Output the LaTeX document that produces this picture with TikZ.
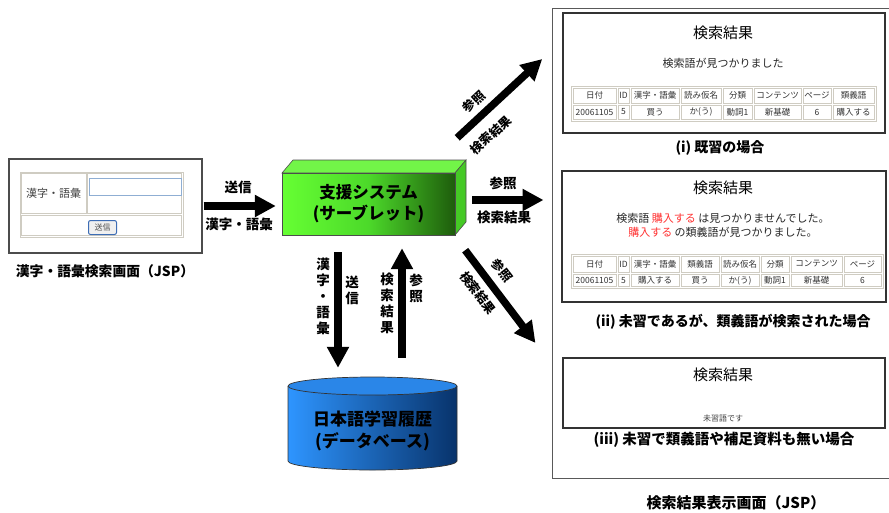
\documentclass[tikz,border=0pt]{standalone}
\usepackage{fontspec}
\setmainfont{Noto Sans CJK JP}
\usetikzlibrary{arrows.meta}
\definecolor{glight}{HTML}{66FF33}
\definecolor{gmid}{HTML}{4CD92A}
\definecolor{gdark}{HTML}{1E5C0C}
\definecolor{gtop}{HTML}{72F548}
\definecolor{gside}{HTML}{45C925}
\definecolor{blight}{HTML}{2E95FF}
\definecolor{bdark}{HTML}{08336B}
\definecolor{btop}{HTML}{2A86E8}
\definecolor{tablegray}{HTML}{CFCCC2}
\definecolor{inputblue}{HTML}{8FAED3}
\definecolor{btnblue}{HTML}{3D6DB5}
\definecolor{hired}{HTML}{FF3333}
\begin{document}
\begin{tikzpicture}[x=1pt,y=-1pt,
  bigarrow/.style={line width=7.5pt,-{Triangle[width=21pt,length=21pt]}},
  lbl/.style={font=\fontsize{13.5}{16}\selectfont\bfseries, inner sep=0pt},
  dlbl/.style={font=\fontsize{12.5}{15}\selectfont\bfseries, inner sep=0pt},
  vlbl/.style={font=\fontsize{13.5}{16}\selectfont\bfseries, inner sep=0pt, align=center},
  panel/.style={draw=black!80, line width=1.5pt, fill=white, inner sep=0pt},
  cell/.style={draw=tablegray, line width=0.7pt},
  tt/.style={font=\fontsize{8.5}{10}\selectfont, text=black!80, inner sep=0pt},
  head/.style={font=\fontsize{15}{18}\selectfont, inner sep=0pt},
  msg/.style={font=\fontsize{11}{14.5}\selectfont, text=black!85, inner sep=0pt, align=center},
  captxt/.style={font=\fontsize{14}{17}\selectfont\bfseries, inner sep=0pt},
]
\useasboundingbox (0,0) rectangle (889,512);

% ---------- left JSP screen ----------
\node[draw=black!70, line width=1.3pt, minimum width=193pt, minimum height=94pt, inner sep=0pt] (jsp) at (105.5,206) {};
\draw[cell] (20,172) rectangle (183,237);
\draw[cell] (21.5,173.5) rectangle (86,213);
\node[font=\fontsize{11}{13}\selectfont, text=black!75, inner sep=0pt] (kl) at (53.5,193) {漢字・語彙};
\draw[cell] (87.5,173.5) rectangle (181.5,213);
\node[draw=inputblue, line width=0.9pt, fill=white, minimum width=92pt, minimum height=17pt, inner sep=0pt] (inp) at (135,186.5) {};
\draw[cell] (21.5,215) rectangle (181.5,235.5);
\node[draw=btnblue, line width=1pt, rounded corners=2pt, fill=black!6, minimum width=28pt, minimum height=14pt, inner sep=0pt, font=\fontsize{8}{9}\selectfont, text=black!70] (btn) at (102.5,227.5) {送信};
\node[captxt, font=\fontsize{13.8}{16}\selectfont\bfseries] (jspcap) at (105,271) {漢字・語彙検索画面（JSP）};

% ---------- green 3D box ----------
\filldraw[fill=gtop, draw=black!70, line width=0.6pt] (282,173) -- (293,160) -- (466,160) -- (455,173) -- cycle;
\filldraw[fill=gside, draw=black!70, line width=0.6pt] (455,173) -- (466,160) -- (466,222) -- (455,235) -- cycle;
\shade[left color=glight, right color=gdark, middle color=gmid] (282,173) rectangle (455,235);
\draw[black!70, line width=0.6pt] (282,173) rectangle (455,235);
\node[font=\fontsize{16.5}{21}\selectfont\bfseries, align=center, minimum width=173pt, minimum height=62pt, inner sep=0pt] (sys) at (368.5,204) {支援システム\\(サーブレット)};

% ---------- database cylinder ----------
\shade[left color=blight, right color=bdark] (288,386) -- (288,461) .. controls (288,466) and (325.8,470) .. (372.5,470) .. controls (419.2,470) and (457,466) .. (457,461) -- (457,386) -- cycle;
\draw[black!80, line width=0.7pt] (288,386) -- (288,461) .. controls (288,466) and (325.8,470) .. (372.5,470) .. controls (419.2,470) and (457,466) .. (457,461) -- (457,386);
\filldraw[fill=btop, draw=black!80, line width=0.7pt] (372.5,386) ellipse [x radius=84.5, y radius=9];
\node[font=\fontsize{17}{22}\selectfont\bfseries, align=center, minimum width=169pt, minimum height=84pt, inner sep=0pt] (db) at (372.5,431) {日本語学習履歴\\(データベース)};

% ---------- right result screen ----------
\node[draw=black!65, line width=1pt, minimum width=343pt, minimum height=470pt, inner sep=0pt] (res) at (723.5,243) {};
\node[panel, minimum width=322pt, minimum height=120pt] (p1) at (724,73) {};
\node[panel, minimum width=324pt, minimum height=131pt] (p2) at (724,236.5) {};
\node[panel, minimum width=322pt, minimum height=70pt] (p3) at (724,393) {};

% panel (i)
\node[head] (h1t) at (723,33) {検索結果};
\node[msg] (m1) at (723,63) {検索語が見つかりました};
\draw[cell] (571,86) rectangle (876,121);
\foreach \xa/\xb/\h/\v [count=\i] in {572/617/日付/20061105, 617/630/ID/5, 630/680/漢字・語彙/買う, 680/722/読み仮名/か(う), 722/753/分類/動詞1, 753/802/コンテンツ/新基礎, 802/832/ページ/6, 832/875/類義語/購入する} {
  \draw[cell] (\xa+1,88) rectangle (\xb-1,103);
  \draw[cell] (\xa+1,105) rectangle (\xb-1,119);
  \node[tt] (ta\i) at ({(\xa+\xb)/2},95.5) {\h};
  \node[tt] (tb\i) at ({(\xa+\xb)/2},112) {\v};
}
\node[captxt] (c1) at (720,148) {(i) 既習の場合};

% panel (ii)
\node[head] (h2t) at (723,188) {検索結果};
\node[msg] (m2) at (723,225.5) {検索語 \textcolor{hired}{購入する} は見つかりませんでした。\\\textcolor{hired}{購入する} の類義語が見つかりました。};
\draw[cell] (571,254) rectangle (883,288);
\foreach \xa/\xb/\h/\v [count=\i] in {572/617/日付/20061105, 617/630/ID/5, 630/680/漢字・語彙/購入する, 680/720/類義語/買う, 720/760/読み仮名/か(う), 760/790/分類/動詞1, 790/843/コンテンツ/新基礎, 843/882/ページ/6} {
  \draw[cell] (\xa+1,256) rectangle (\xb-1,272);
  \draw[cell] (\xa+1,274) rectangle (\xb-1,286.5);
  \node[tt] (tc\i) at ({(\xa+\xb)/2},264) {\h};
  \node[tt] (td\i) at ({(\xa+\xb)/2},280.5) {\v};
}
\node[captxt] (c2) at (733,322) {(ii) 未習であるが、類義語が検索された場合};

% panel (iii)
\node[head] (h3t) at (723,375) {検索結果};
\node[font=\fontsize{8}{10}\selectfont, text=black!75, inner sep=0pt] (m3) at (723,418) {未習語です};
\node[captxt, font=\fontsize{14.5}{17}\selectfont\bfseries] (c3) at (724,440) {(iii) 未習で類義語や補足資料も無い場合};
\node[captxt, font=\fontsize{15}{17}\selectfont\bfseries] (rescap) at (736,503) {検索結果表示画面（JSP）};

% ---------- arrows ----------
\draw[bigarrow, shorten <=1pt, shorten >=6pt] (jsp.east) -- (jsp.east -| sys.west);
\node[lbl] (h1) at (238,187) {送信};
\node[lbl] (h2) at (239,224) {漢字・語彙};

\coordinate (s2) at ([shift={(17pt,4pt)}]sys.east);
\draw[bigarrow, shorten >=8pt] (s2) -- (s2 -| res.west);
\node[lbl] (r2a) at (503,183) {参照};
\node[lbl] (r2b) at (504,217) {検索結果};

\coordinate (s1) at ([shift={(2pt,35pt)}]sys.north east);
\coordinate (e1) at ([shift={(-20pt,14pt)}]p1.west);
\draw[bigarrow] (s1) -- (e1);
\node[dlbl, rotate=42.6] (d1a) at (474,102) {参照};
\node[dlbl, rotate=42.6] (d1b) at (491,135) {検索結果};

\coordinate (s3) at ([shift={(10pt,-15pt)}]sys.south east);
\coordinate (e3) at ([shift={(-16pt,-100pt)}]res.west);
\draw[bigarrow] (s3) -- (e3);
\node[dlbl, rotate=-52.6] (d3a) at (502,271) {参照};
\node[dlbl, rotate=-52.6] (d3b) at (478,293) {検索結果};

\coordinate (dn) at ([xshift=-30.5pt, yshift=-17pt]sys.south);
\draw[bigarrow, shorten >=21pt] (dn) -- (dn |- db.north);
\coordinate (up) at ([xshift=33.5pt]sys.south);
\draw[bigarrow, shorten <=31pt, shorten >=13pt] (up |- db.north) -- (up);
\node[vlbl] (v1) at (323,296) {漢\\字\\・\\語\\彙};
\node[vlbl] (v2) at (352,290) {送\\信};
\node[vlbl] (v3) at (387,303) {検\\索\\結\\果};
\node[vlbl] (v4) at (416,288) {参\\照};
\end{tikzpicture}
\end{document}
